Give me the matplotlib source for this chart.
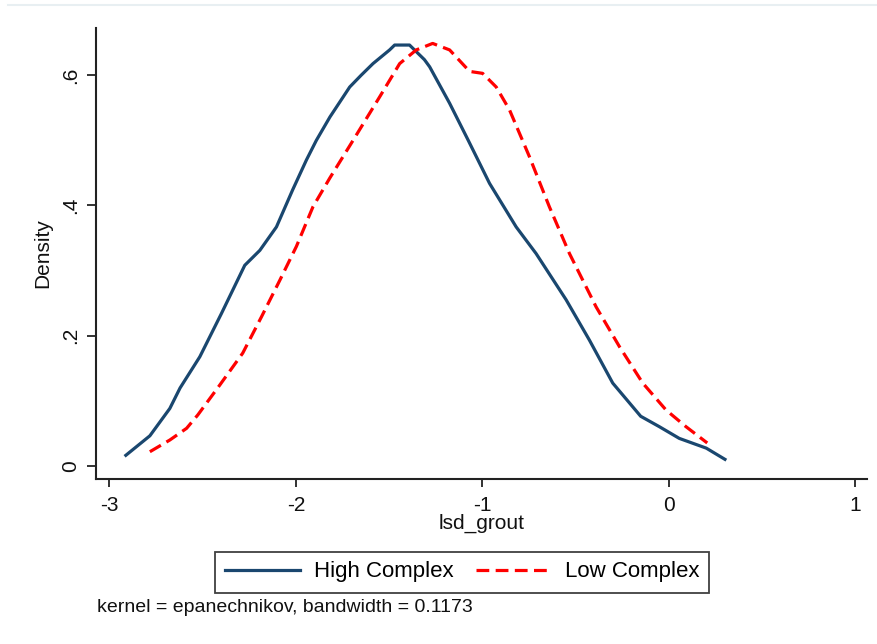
import matplotlib
matplotlib.use("Agg")
import matplotlib.pyplot as plt
from matplotlib.lines import Line2D

# Data (kernel density estimates)
high_x = [-2.912, -2.783, -2.676, -2.621, -2.515, -2.399, -2.274, -2.193, -2.104, -2.017,
          -1.943, -1.89, -1.817, -1.711, -1.65, -1.586, -1.497, -1.47, -1.39, -1.31, -1.282,
          -1.175, -1.075, -0.961, -0.818, -0.711, -0.55, -0.425, -0.30, -0.15, -0.05,
          0.057, 0.202, 0.302]
high_y = [0.016, 0.046, 0.088, 0.1195, 0.1675, 0.234, 0.308, 0.331, 0.367, 0.424,
          0.47, 0.50, 0.536, 0.582, 0.60, 0.618, 0.639, 0.6465, 0.6465, 0.624, 0.613,
          0.557, 0.50, 0.434, 0.367, 0.326, 0.255, 0.193, 0.127, 0.076, 0.06,
          0.042, 0.027, 0.0098]

low_x = [-2.783, -2.676, -2.586, -2.526, -2.408, -2.285, -2.184, -2.086, -1.997, -1.908,
         -1.818, -1.693, -1.55, -1.443, -1.354, -1.266, -1.175, -1.068, -0.998, -0.925,
         -0.854, -0.747, -0.64, -0.532, -0.389, -0.264, -0.139, -0.014, 0.093, 0.207]
low_y = [0.0215, 0.0395, 0.0575, 0.078, 0.124, 0.173, 0.229, 0.285, 0.337, 0.398,
         0.442, 0.50, 0.567, 0.618, 0.639, 0.649, 0.639, 0.606, 0.603, 0.582,
         0.547, 0.475, 0.398, 0.326, 0.244, 0.183, 0.127, 0.0856, 0.06, 0.035]

series_labels = ["High Complex", "Low Complex"]
x_ticks = [-3, -2, -1, 0, 1]
x_ticklabels = ["-3", "-2", "-1", "0", "1"]
y_ticks = [0, 0.2, 0.4, 0.6]
y_ticklabels = ["0", ".2", ".4", ".6"]
x_label = "lsd_grout"
y_label = "Density"
note = "kernel = epanechnikov, bandwidth = 0.1173"

plt.rcParams['font.family'] = ['Liberation Sans', 'DejaVu Sans']

W, H = 878, 644
fig = plt.figure(figsize=(W / 100, H / 100), dpi=100)
fig.patch.set_facecolor("white")

ax = fig.add_axes([96 / W, 1 - 479 / H, (867 - 96) / W, (479 - 28) / H])
ax.plot(high_x, high_y, color="#1a476f", lw=2.3, label=series_labels[0],
        solid_joinstyle="round")
ax.plot(low_x, low_y, color="#ff0000", lw=2.3, ls=(0, (4, 2)), label=series_labels[1])

ax.set_xlim(-3.072, 1.064)
ax.set_ylim(-0.0204, 0.6727)
ax.set_xticks(x_ticks)
ax.set_xticklabels(x_ticklabels)
ax.set_yticks(y_ticks)
ax.set_yticklabels(y_ticklabels, rotation=90, va="center")

for s in ["top", "right"]:
    ax.spines[s].set_visible(False)
for s in ["left", "bottom"]:
    ax.spines[s].set_linewidth(1.5)
    ax.spines[s].set_color("#222222")

ax.tick_params(axis="x", length=6, width=1.3, color="#222222", pad=6,
               labelsize=15, labelcolor="#111111")
ax.tick_params(axis="y", length=6.5, width=1.3, color="#222222", pad=5,
               labelsize=15, labelcolor="#111111")

ax.set_xlabel(x_label, fontsize=15, color="#111111")
ax.xaxis.label.set_verticalalignment("center")
ax.xaxis.set_label_coords(0.5, (479 - 523) / 451)
ax.set_ylabel(y_label, fontsize=15, color="#111111")
ax.yaxis.label.set_verticalalignment("center")
ax.yaxis.set_label_coords((43 - 96) / 771, 0.5)

handles, labels = ax.get_legend_handles_labels()
leg = fig.legend(handles, labels, loc="center", bbox_to_anchor=(462 / W, 1 - 572 / H),
                 ncol=2, fontsize=16, frameon=True, fancybox=False,
                 edgecolor="#111111", handlelength=3.4, handletextpad=0.6,
                 columnspacing=1.0, borderpad=0.45, borderaxespad=0)
leg.get_frame().set_linewidth(1.3)

fig.text(97 / W, 1 - 607 / H, note, fontsize=14, color="#111111", va="center", ha="left")

fig.add_artist(Line2D([8 / W, 1], [1 - 5 / H, 1 - 5 / H], transform=fig.transFigure,
                      color="#e8eff2", lw=1.5))

fig.savefig("out.png", dpi=100)
